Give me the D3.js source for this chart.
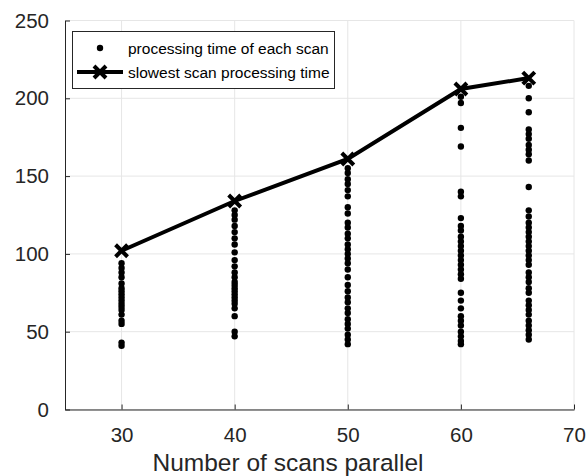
<!DOCTYPE html>
<html>
<head>
<meta charset="utf-8">
<script src="https://cdn.jsdelivr.net/npm/d3@7"></script>
<style>
  body { margin: 0; background: #fff; }
  text { font-family: "Liberation Sans", Arial, sans-serif; }
</style>
</head>
<body>
<div id="chart"></div>
<script>
// scan counts (x) and the slowest time per run
const scanCounts = [30, 40, 50, 60, 66];
const slowestTimes = [102, 134, 161, 206, 213];

// processing time of each scan, per run
const times30 = [94, 91, 88, 85, 81, 78, 76, 74, 72, 70, 68, 66, 64, 61, 57, 55, 43, 41];
const times40 = [128, 125, 122, 118, 114, 110, 106, 101, 96, 92, 88, 85, 82, 80, 78, 76, 74, 72, 70, 68, 65, 60, 50, 47];
const times50 = [155, 152, 148, 145, 141, 137, 130, 126, 120, 117, 113, 110, 106, 103, 100, 97, 94, 90, 85, 80, 76, 72, 69, 65, 62, 58, 55, 52, 48, 45, 42];
const times60 = [201, 197, 181, 169, 140, 137, 123, 118, 115, 111, 108, 105, 102, 99, 96, 93, 90, 87, 84, 75, 70, 65, 60, 57, 54, 50, 47, 44, 42];
const times66 = [208, 200, 191, 180, 177, 174, 170, 167, 164, 160, 143, 128, 124, 120, 117, 114, 111, 108, 105, 102, 99, 96, 93, 88, 85, 82, 78, 75, 70, 67, 64, 61, 57, 54, 51, 48, 45];
const scanTimes = [times30, times40, times50, times60, times66];

const xTicks = [30, 40, 50, 60, 70];
const yTicks = [0, 50, 100, 150, 200, 250];

const width = 586, height = 476;
const margin = { top: 20.5, right: 12, bottom: 66.5, left: 65 };

const svg = d3.select("#chart").append("svg")
  .attr("width", width).attr("height", height);

const x = d3.scaleLinear().domain([25, 70]).range([margin.left, width - margin.right]);
const y = d3.scaleLinear().domain([0, 250]).range([height - margin.bottom, margin.top]);

// grid
svg.append("g")
  .selectAll("line.gx").data(xTicks).enter().append("line")
  .attr("x1", d => x(d)).attr("x2", d => x(d))
  .attr("y1", y(0)).attr("y2", y(250))
  .attr("stroke", "#e6e6e6").attr("stroke-width", 1);
svg.append("g")
  .selectAll("line.gy").data(yTicks).enter().append("line")
  .attr("x1", x(25)).attr("x2", x(70))
  .attr("y1", d => y(d)).attr("y2", d => y(d))
  .attr("stroke", "#e6e6e6").attr("stroke-width", 1);

// axes
const xAxis = svg.append("g")
  .attr("transform", `translate(0,${y(0)})`)
  .call(d3.axisBottom(x).tickValues(xTicks).tickSizeInner(-5).tickSizeOuter(0).tickPadding(18));
const yAxis = svg.append("g")
  .attr("transform", `translate(${x(25)},0)`)
  .call(d3.axisLeft(y).tickValues(yTicks).tickSizeInner(-5).tickSizeOuter(0).tickPadding(16));

[xAxis, yAxis].forEach(g => {
  g.select(".domain").attr("stroke", "#262626").attr("stroke-width", 1);
  g.selectAll(".tick line").attr("stroke", "#262626");
  g.selectAll("text")
    .attr("font-size", "20.5px")
    .attr("fill", "#262626")
    .style("font-family", "Liberation Sans, Arial, sans-serif");
});

svg.append("text")
  .attr("x", 288).attr("y", 471)
  .attr("text-anchor", "middle")
  .attr("font-size", "24.5px")
  .attr("fill", "#262626")
  .text("Number of scans parallel");

// scatter dots
const dots = [];
scanCounts.forEach((n, i) => scanTimes[i].forEach(t => dots.push({ n, t })));
svg.append("g")
  .selectAll("circle").data(dots).enter().append("circle")
  .attr("cx", d => x(d.n)).attr("cy", d => y(d.t))
  .attr("r", 3.2).attr("fill", "#000");

// slowest line
const slowest = scanCounts.map((n, i) => ({ n, t: slowestTimes[i] }));
svg.append("path")
  .datum(slowest)
  .attr("fill", "none").attr("stroke", "#000").attr("stroke-width", 4)
  .attr("d", d3.line().x(d => x(d.n)).y(d => y(d.t)));

function cross(g, cx, cy, s) {
  g.append("path")
    .attr("d", `M${cx - s},${cy - s}L${cx + s},${cy + s}M${cx - s},${cy + s}L${cx + s},${cy - s}`)
    .attr("stroke", "#000").attr("stroke-width", 4).attr("fill", "none");
}
const markers = svg.append("g");
slowest.forEach(d => cross(markers, x(d.n), y(d.t), 6));

// legend
const legend = svg.append("g");
legend.append("rect")
  .attr("x", 72.5).attr("y", 31.5).attr("width", 262).attr("height", 57)
  .attr("fill", "#fff").attr("stroke", "#262626").attr("stroke-width", 1);
legend.append("circle").attr("cx", 100).attr("cy", 48).attr("r", 3.2).attr("fill", "#000");
legend.append("text").attr("x", 128).attr("y", 54)
  .attr("font-size", "15.5px").attr("fill", "#000")
  .text("processing time of each scan");
legend.append("line").attr("x1", 77).attr("x2", 123).attr("y1", 72).attr("y2", 72)
  .attr("stroke", "#000").attr("stroke-width", 4);
cross(legend, 100, 72, 6);
legend.append("text").attr("x", 128).attr("y", 78)
  .attr("font-size", "15.5px").attr("fill", "#000")
  .text("slowest scan processing time");
</script>
</body>
</html>
